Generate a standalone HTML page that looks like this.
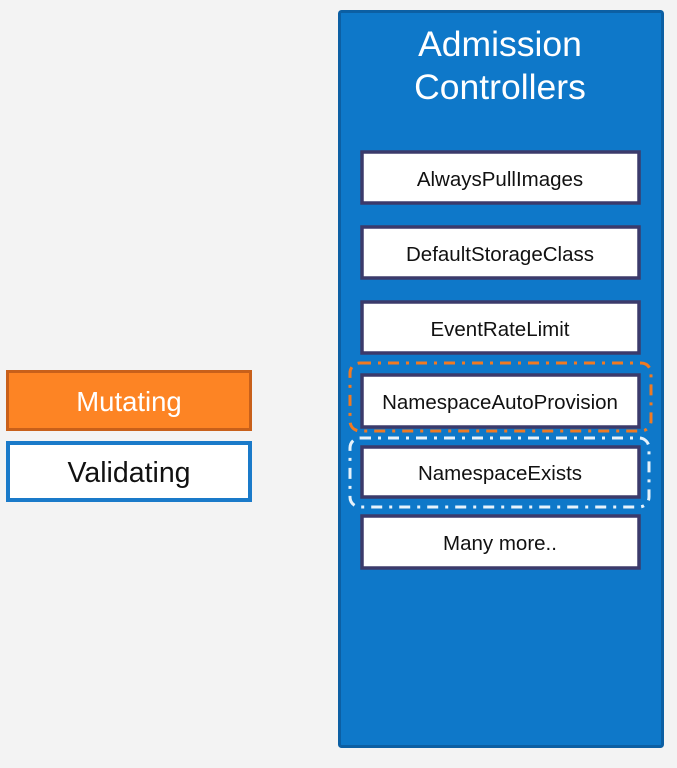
<!DOCTYPE html>
<html><head><style>
html,body{margin:0;padding:0;background:#f3f3f3;}
svg{display:block;font-family:"Liberation Sans",Arial,sans-serif;}
</style></head><body>
<svg width="677" height="768" viewBox="0 0 677 768" xmlns="http://www.w3.org/2000/svg">
<rect width="677" height="768" fill="#f3f3f3"/>
<rect x="7.5" y="371.5" width="243" height="58" fill="#fd8424" stroke="#c8601a" stroke-width="3"/>
<text x="129" y="411" font-size="27.5" fill="#fff" text-anchor="middle">Mutating</text>
<rect x="8" y="443" width="242" height="57" fill="#fff" stroke="#1a7ac9" stroke-width="4"/>
<text x="129" y="482" font-size="28.5" fill="#111" text-anchor="middle">Validating</text>
<rect x="339.5" y="11.5" width="323" height="735" rx="2" fill="#0e78c9" stroke="#0c5fa3" stroke-width="3"/>
<text x="500" y="56" font-size="35.5" fill="#fff" text-anchor="middle">Admission</text>
<text x="500" y="99" font-size="35.5" fill="#fff" text-anchor="middle">Controllers</text>
<g fill="#fff" stroke="#3b3a6b" stroke-width="3.5">
<rect x="362" y="152" width="277" height="51"/>
<rect x="362" y="227" width="277" height="51"/>
<rect x="362" y="302" width="277" height="51"/>
<rect x="362" y="375" width="277" height="52"/>
<rect x="362" y="447" width="277" height="50"/>
<rect x="362" y="516" width="277" height="52"/>
</g>
<g font-size="20.5" fill="#111" text-anchor="middle">
<text x="500" y="186">AlwaysPullImages</text>
<text x="500" y="261">DefaultStorageClass</text>
<text x="500" y="336">EventRateLimit</text>
<text x="500" y="409">NamespaceAutoProvision</text>
<text x="500" y="480">NamespaceExists</text>
<text x="500" y="550">Many more..</text>
</g>
<rect x="350" y="363" width="301" height="68" rx="10" fill="none" stroke="#f07a22" stroke-width="3" stroke-dasharray="11 7 3 7"/>
<rect x="350" y="438" width="299" height="69" rx="10" fill="none" stroke="#e6f2fb" stroke-width="3" stroke-dasharray="11 7 3 7"/>
</svg>
</body></html>
